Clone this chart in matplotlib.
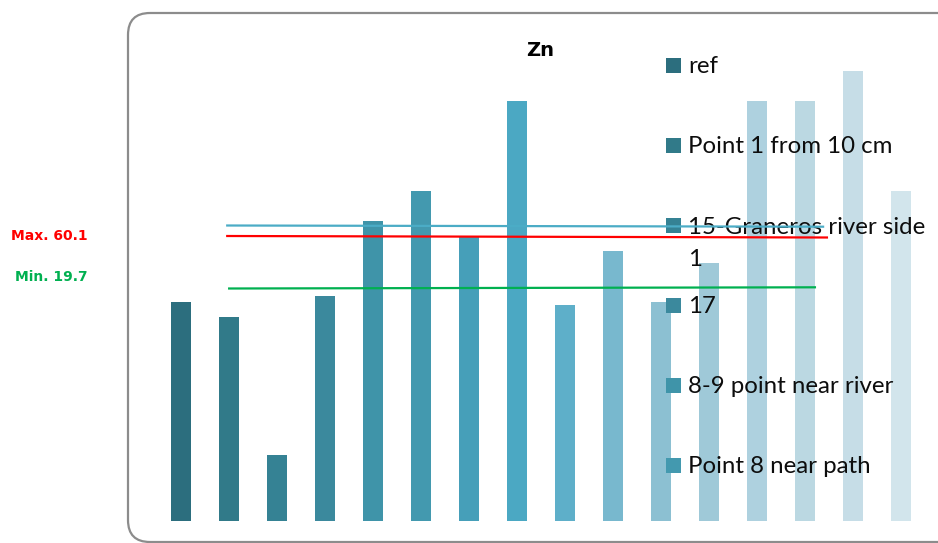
import matplotlib
matplotlib.use("Agg")
import matplotlib.pyplot as plt
from matplotlib.patches import FancyBboxPatch, Rectangle
from matplotlib.transforms import Affine2D

# ---- data ----
values = [73, 68, 22, 75, 100, 110, 95, 140, 72, 90, 73, 86, 140, 140, 150, 110]
bar_colors = ["#2C6E7E", "#317A89", "#358294", "#3B899D", "#3F94A9", "#4399AF",
              "#469FB9", "#4BA8C3", "#5EAFC9", "#78B8CE", "#8CC0D2", "#9FC9D8",
              "#AED1DF", "#BBD8E2", "#C6DDE7", "#D2E5EC"]
legend_labels = ["ref", "Point 1 from 10 cm", "15-Graneros river side\n1", "17",
                 "8-9 point near river", "Point 8 near path"]
title = "Zn"
ref_lines = [  # (x0, y0, x1, y1, color)
    (0.94, 98.5, 13.40, 98.1, "#4BACC6"),
    (0.94, 95.0, 13.48, 94.5, "#FF0000"),
    (0.98, 77.5, 13.23, 77.9, "#00B050"),
]
max_label = "Max. 60.1"
min_label = "Min. 19.7"

W, H, DPI = 938, 543, 100
fig = plt.figure(figsize=(W / DPI, H / DPI), dpi=DPI)
ax = fig.add_axes([0, 0, 1, 1])
ax.set_xlim(-181 / 48, (W - 181) / 48)
ax.set_ylim(-22 / 3, 521 / 3)
ax.axis("off")

# pixel transform (x from left, y from top)
T = Affine2D().scale(1 / DPI, -1 / DPI).translate(0, H / DPI) + fig.dpi_scale_trans

# frame
frame = FancyBboxPatch((128, 13), 900, 529,
                       boxstyle="round,pad=0,rounding_size=22",
                       transform=T, facecolor="none", edgecolor="#8C8C8C",
                       linewidth=1.6, zorder=0)
fig.patches.append(frame)

xs = list(range(len(values)))
ax.bar(xs, values, width=20 / 48, color=bar_colors, zorder=1)

for x0, y0, x1, y1, c in ref_lines:
    ax.plot([x0, x1], [y0, y1], color=c, linewidth=1.6, zorder=5,
            solid_capstyle="butt")

ax.text(540, 51, title, transform=T, ha="center", va="center",
        fontsize=14, fontweight="bold", family="DejaVu Sans", zorder=4)

ax.text(88, 236, max_label, transform=T, ha="right", va="center",
        fontsize=10, fontweight="bold", color="#FF0000")
ax.text(88, 277, min_label, transform=T, ha="right", va="center",
        fontsize=10, fontweight="bold", color="#00B050")

# legend (fixed slots)
line_gap = 33
for i, lab in enumerate(legend_labels):
    yc = 65 + 80 * i
    n_extra = lab.count("\n")
    ax.add_patch(Rectangle((666, yc - 7.5), 15, 15, transform=T,
                           facecolor=bar_colors[i], edgecolor="none", zorder=3))
    ax.text(688, yc + 8 + line_gap * n_extra, lab, transform=T, ha="left",
            va="baseline", fontsize=17.3, family="Lato", color="#0D0D0D",
            linespacing=1.65, zorder=3)

fig.savefig("out.png", dpi=DPI)
